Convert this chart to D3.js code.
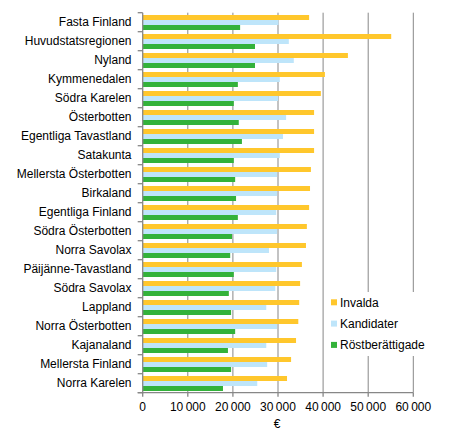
<!DOCTYPE html>
<html>
<head>
<meta charset="utf-8">
<script src="https://cdn.jsdelivr.net/npm/d3@7"></script>
<style>
  html, body { margin: 0; padding: 0; background: #fff; }
  svg { display: block; font-family: "Liberation Sans", Arial, sans-serif; }
</style>
</head>
<body>
<svg id="chart" width="465" height="437"></svg>
<script>
const categories = ["Fasta Finland","Huvudstatsregionen","Nyland","Kymmenedalen","Södra Karelen","Österbotten","Egentliga Tavastland","Satakunta","Mellersta Österbotten","Birkaland","Egentliga Finland","Södra Österbotten","Norra Savolax","Päijänne-Tavastland","Södra Savolax","Lappland","Norra Österbotten","Kajanaland","Mellersta Finland","Norra Karelen"];
const seriesNames = ["Invalda","Kandidater","Röstberättigade"];
const invalda = [36900,55100,45500,40400,39500,38000,38000,38000,37300,37100,36900,36400,36200,35300,34900,34700,34500,34000,32900,32000];
const kandidater = [30100,32400,33500,30400,30000,31800,31100,30400,29800,29800,29600,29800,28000,29600,29400,27400,29800,27400,27600,25400];
const rostberattigade = [21600,24900,24900,21100,20200,21300,22000,20200,20500,20700,21100,19800,19400,20200,19100,19600,20500,18900,19600,17800];
const xTicks = [0,10000,20000,30000,40000,50000,60000];
const colors = ["#FFC72C","#BEE5FA","#33B23A"];
const seriesValues = [invalda, kandidater, rostberattigade];

(function () {
const svg = d3.select("#chart");
const mL = 142.7, mR = 413.3, mT = 12.7, mB = 392.7;

const x = d3.scaleLinear().domain([0, 60000]).range([mL, mR]);
const y = d3.scaleBand().domain(categories).range([mT, mB]).paddingInner(0).paddingOuter(0);
const inner = d3.scaleBand().domain(seriesNames).range([2.3, 17.3]);

// gridlines
svg.append("g").selectAll("line").data(xTicks.slice(1)).join("line")
  .attr("x1", d => x(d)).attr("x2", d => x(d))
  .attr("y1", mT).attr("y2", mB)
  .attr("stroke", "#878787").attr("stroke-width", 1);

// bars
const groups = svg.append("g").selectAll("g").data(categories).join("g")
  .attr("transform", d => `translate(0,${y(d)})`);
groups.selectAll("rect").data((d, i) => seriesNames.map((s, j) => ({s, j, v: seriesValues[j][i]})))
  .join("rect")
  .attr("x", x(0))
  .attr("y", d => inner(d.s))
  .attr("width", d => x(d.v) - x(0))
  .attr("height", inner.bandwidth())
  .attr("fill", d => colors[d.j]);

// y axis
const yAxis = svg.append("g");
yAxis.append("line").attr("x1", mL).attr("x2", mL).attr("y1", mT).attr("y2", mB + 0.5)
  .attr("stroke", "#878787").attr("stroke-width", 1.3);
const bounds = categories.map(c => y(c)).concat([mB]);
yAxis.selectAll("line.tk").data(bounds).join("line").attr("class","tk")
  .attr("x1", mL - 5).attr("x2", mL).attr("y1", d => d).attr("y2", d => d)
  .attr("stroke", "#878787").attr("stroke-width", 1.3);
yAxis.selectAll("text").data(categories).join("text")
  .attr("x", 131.5).attr("y", d => y(d) + y.bandwidth() / 2 + 4.2)
  .attr("text-anchor", "end").attr("font-size", 12).attr("fill", "#000")
  .text(d => d);

// x axis
const xAxis = svg.append("g");
xAxis.append("line").attr("x1", mL - 5).attr("x2", mR).attr("y1", mB).attr("y2", mB)
  .attr("stroke", "#878787").attr("stroke-width", 1.3);
xAxis.selectAll("line.tk").data(xTicks).join("line").attr("class","tk")
  .attr("x1", d => x(d)).attr("x2", d => x(d)).attr("y1", mB).attr("y2", mB + 4)
  .attr("stroke", "#878787").attr("stroke-width", 1.3);
const fmt = d => d === 0 ? "0" : d3.format(",")(d).replace(/,/g, "\u2009");
xAxis.selectAll("text").data(xTicks).join("text")
  .attr("x", d => x(d)).attr("y", 410.5)
  .attr("text-anchor", "middle").attr("font-size", 12).attr("fill", "#000")
  .text(fmt);
svg.append("text").attr("x", (mL + mR) / 2 - 1).attr("y", 428)
  .attr("text-anchor", "middle").attr("font-size", 12).text("€");

// legend
const lg = svg.append("g");
lg.append("rect").attr("x", 327).attr("y", 292).attr("width", 103).attr("height", 64).attr("fill", "#fff");
const li = lg.selectAll("g").data(seriesNames).join("g")
  .attr("transform", (d, i) => `translate(331,${302.3 + i * 21.3})`);
li.append("rect").attr("x", 0).attr("y", -3).attr("width", 6).attr("height", 6)
  .attr("fill", (d, i) => colors[i]);
li.append("text").attr("x", 9).attr("y", 4.3).attr("font-size", 12).text(d => d);
})();
</script>
</body>
</html>
